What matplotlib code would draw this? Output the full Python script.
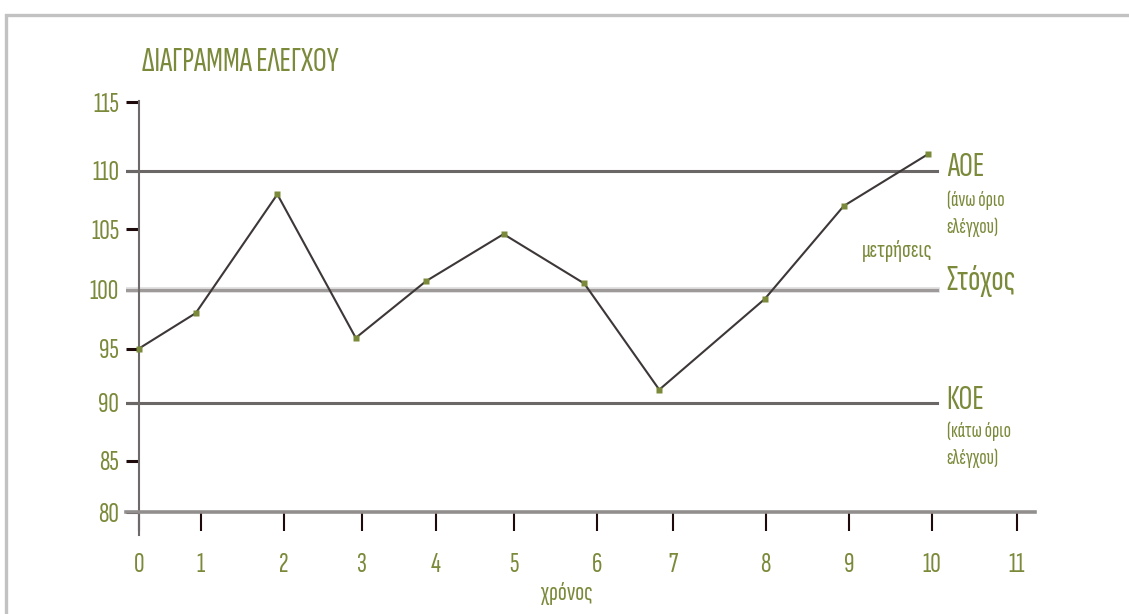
import numpy as np
import matplotlib
matplotlib.use("Agg")
import matplotlib.pyplot as plt
from matplotlib.patches import Rectangle

plt.rcParams['font.family'] = ["Sofia Sans Extra Condensed", "Liberation Sans Narrow", "DejaVu Sans"]
plt.rcParams['font.weight'] = 500

# measurements over time
years = [0, 0.92, 1.92, 2.92, 3.87, 4.87, 5.85, 6.82, 7.99, 8.94, 9.95]
values = [95, 98, 108, 95.9, 100.7, 104.6, 100.5, 91.2, 99.2, 107, 111.2]

x_ticks = list(range(12))
y_ticks = [80, 85, 90, 95, 100, 105, 110, 115]
target = 100
ucl = 110
lcl = 90

OLIVE = "#7a8a3a"
W, H = 1129, 614

# hand-drawn axes: ticks are not evenly spaced, so warp both scales
x_marks = [139, 200.7, 284, 362, 435.7, 513.7, 596.7, 673, 765.7, 848.7, 931.7, 1016.7]
y_marks = [101.7, 153.3, 211.3, 265.5, 324.5, 384.7, 443, 512]


def piecewise(knots, marks):
    k = np.asarray(knots, float)
    m = np.asarray(marks, float)

    def fwd(v):
        v = np.asarray(v, float)
        lo = m[0] + (v - k[0]) * (m[1] - m[0]) / (k[1] - k[0])
        hi = m[-1] + (v - k[-1]) * (m[-1] - m[-2]) / (k[-1] - k[-2])
        return np.where(v < k[0], lo, np.where(v > k[-1], hi, np.interp(v, k, m)))

    def inv(p):
        p = np.asarray(p, float)
        lo = k[0] + (p - m[0]) * (k[1] - k[0]) / (m[1] - m[0])
        hi = k[-1] + (p - m[-1]) * (k[-1] - k[-2]) / (m[-1] - m[-2])
        return np.where(p < m[0], lo, np.where(p > m[-1], hi, np.interp(p, m, k)))

    return fwd, inv


def px(x, y):
    return x / W, 1 - y / H


fx, ix = piecewise(x_ticks, x_marks)
fy, iy = piecewise(y_ticks, y_marks)

fig = plt.figure(figsize=(W / 100, H / 100), dpi=100)
left, right, bottom, top = 126, 1035, H - 535, H - 101
ax = fig.add_axes([left / W, bottom / H, (right - left) / W, (top - bottom) / H])
ax.set_xscale('function', functions=(fx, ix))
ax.set_yscale('function', functions=(fy, iy))
ax.set_xlim(float(ix(left)), float(ix(right)))
ax.set_ylim(float(iy(bottom)), float(iy(top)))

# control limits and target
line_end = (936.7 - left) / (right - left)
ax.axhline(ucl, xmin=0, xmax=line_end, color="#6b6767", lw=2.2, zorder=2)
ax.axhline(lcl, xmin=0, xmax=line_end, color="#6b6767", lw=2.2, zorder=2)
ax.axhline(target, xmin=0, xmax=line_end, color="#dcdada", lw=4.0, zorder=2)
ax.axhline(target, xmin=0, xmax=line_end, color="#9e9a9a", lw=2.2, zorder=2)

ax.plot(years, values, color="#3d3737", lw=1.5, zorder=3)
ax.plot(years, values, ls="none", marker="s", ms=5, color=OLIVE, mec="none", zorder=4)

for s in ("top", "right"):
    ax.spines[s].set_visible(False)
ax.spines["left"].set_position(("data", 0))
ax.spines["left"].set_color("#6e6a6a")
ax.spines["left"].set_linewidth(1.5)
ax.spines["bottom"].set_position(("data", 80))
ax.spines["bottom"].set_color("#928e8e")
ax.spines["bottom"].set_linewidth(2.6)

ax.set_xticks(x_ticks)
ax.set_yticks(y_ticks)
ax.set_xticklabels([str(t) for t in x_ticks])
ax.set_yticklabels([str(t) for t in y_ticks])
ax.tick_params(axis="y", direction="out", length=9.4, width=2.2, color="#1e0a0a",
               labelcolor=OLIVE, labelsize=21, pad=5)
ax.tick_params(axis="x", direction="out", length=14, width=1.5, color="#1e0a0a",
               labelcolor=OLIVE, labelsize=21, pad=15)

fig.text(*px(141.7, 70.7), "ΔΙΑΓΡΑΜΜΑ ΕΛΕΓΧΟΥ", color=OLIVE, fontsize=25, va="baseline")
fig.text(*px(567, 600), "χρόνος", color=OLIVE, fontsize=19, va="baseline", ha="center")

fig.text(*px(946.7, 176), "ΑΟΕ", color=OLIVE, fontsize=25, va="baseline")
fig.text(*px(946.7, 206), "(άνω όριο", color=OLIVE, fontsize=15.5, va="baseline")
fig.text(*px(946.7, 233), "ελέγχου)", color=OLIVE, fontsize=15.5, va="baseline")
fig.text(*px(933, 257), "μετρήσεις", color=OLIVE, fontsize=18, va="baseline", ha="right")
fig.text(*px(946.7, 290), "Στόχος", color=OLIVE, fontsize=26, va="baseline")
fig.text(*px(946.7, 409), "ΚΟΕ", color=OLIVE, fontsize=25, va="baseline")
fig.text(*px(946.7, 437), "(κάτω όριο", color=OLIVE, fontsize=15.5, va="baseline")
fig.text(*px(946.7, 464), "ελέγχου)", color=OLIVE, fontsize=15.5, va="baseline")

# page frame
fig.patches.append(Rectangle(px(6, H + 10), (W + 10) / W, (H - 15 + 10) / H,
                             transform=fig.transFigure, fill=False,
                             edgecolor="#c2c2c2", lw=2.4))

fig.savefig("out.png", dpi=100)
